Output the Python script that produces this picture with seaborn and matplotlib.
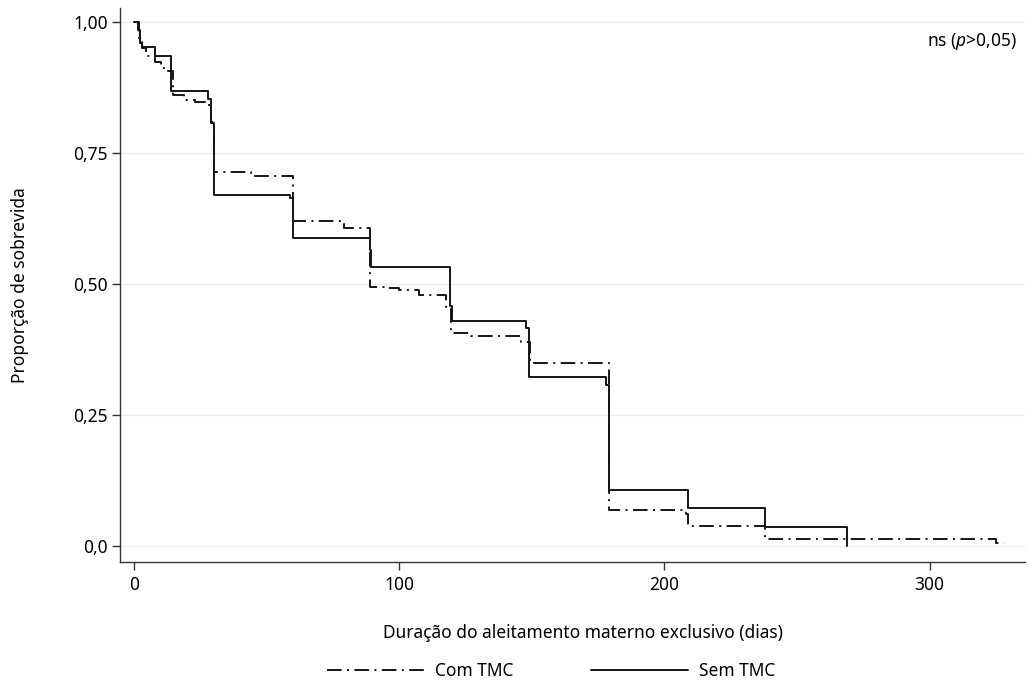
import numpy as np
import pandas as pd
import matplotlib
matplotlib.use("Agg")
import matplotlib.pyplot as plt
import seaborn as sns

# ---- data ----
sem_t = [0, 1.5, 2.1, 3.1, 8, 14, 28, 29, 30, 59, 60, 89, 89.5, 119, 120, 148, 149, 178, 179, 209, 238, 269]
sem_s = [1.0, 0.985, 0.96, 0.952, 0.936, 0.869, 0.853, 0.807, 0.670, 0.665, 0.588, 0.565, 0.533, 0.458, 0.430,
         0.416, 0.323, 0.307, 0.106, 0.072, 0.036, 0.0]

com_t = [0, 2, 3, 4.5, 8, 10, 12.5, 14.5, 19, 23, 27, 29, 30, 44, 60, 79, 89, 95, 100, 107.5, 117.5, 119.5,
         127, 146, 149.5, 179, 208, 209, 238, 325, 328]
com_s = [1.0, 0.97, 0.95, 0.935, 0.924, 0.912, 0.906, 0.861, 0.851, 0.848, 0.842, 0.81, 0.713, 0.707, 0.621,
         0.608, 0.495, 0.492, 0.488, 0.479, 0.457, 0.406, 0.400, 0.390, 0.350, 0.069, 0.062, 0.038, 0.013,
         0.005, 0.005]

groups = ["Com TMC", "Sem TMC"]
x_ticks = [0, 100, 200, 300]
x_ticklabels = ["0", "100", "200", "300"]
y_ticks = [1.0, 0.75, 0.5, 0.25, 0.0]
y_ticklabels = ["1,00", "0,75", "0,50", "0,25", "0,0"]

df = pd.DataFrame({
    "t": com_t + sem_t,
    "s": com_s + sem_s,
    "grupo": [groups[0]] * len(com_t) + [groups[1]] * len(sem_t),
})

# ---- style ----
sns.set_theme(style="white")
plt.rcParams["font.family"] = ["Noto Sans", "DejaVu Sans"]
plt.rcParams["text.color"] = "#000000"
plt.rcParams["mathtext.fontset"] = "custom"
plt.rcParams["mathtext.rm"] = "Noto Sans"
plt.rcParams["mathtext.it"] = "Noto Sans:italic"

W, H = 1029, 681
fig = plt.figure(figsize=(W / 100, H / 100), dpi=100)
L, R, T, B = 120, 1025, 8, 562
ax = fig.add_axes([L / W, 1 - B / H, (R - L) / W, (B - T) / H])

lc = "#151515"
lw = 1.4
sns.lineplot(data=df, x="t", y="s", hue="grupo", style="grupo", hue_order=groups, style_order=groups,
             palette={groups[0]: lc, groups[1]: lc},
             dashes={groups[0]: (7.5, 2.8, 1.0, 2.8), groups[1]: ""},
             estimator=None, sort=False, drawstyle="steps-post", linewidth=lw, legend=False, ax=ax)

ax.set_xlim(-5.3, 336)
ax.set_ylim(-0.0305, 1.027)
ax.set_xticks(x_ticks)
ax.set_xticklabels(x_ticklabels)
ax.set_yticks(y_ticks)
ax.set_yticklabels(y_ticklabels)
ax.yaxis.grid(True, color="#ececec", linewidth=1.0)
ax.xaxis.grid(False)
ax.set_axisbelow(True)

for side in ["top", "right"]:
    ax.spines[side].set_visible(False)
for side in ["left", "bottom"]:
    ax.spines[side].set_color("#333333")
    ax.spines[side].set_linewidth(1.0)

fs = 12.5
ax.tick_params(axis="both", which="major", direction="out", length=6, width=1.0, color="#333333",
               labelsize=fs, labelcolor="#000000", left=True, bottom=True)
ax.tick_params(axis="y", pad=2.5)
ax.tick_params(axis="x", pad=4)

ax.set_xlabel("Duração do aleitamento materno exclusivo (dias)", fontsize=fs, color="#000000")
ax.set_ylabel("Proporção de sobrevida", fontsize=fs, color="#000000")
ax.xaxis.label.set_va("center")
ax.xaxis.set_label_coords((583 - L) / (R - L), (B - 633) / (B - T))
ax.yaxis.label.set_va("center")
ax.yaxis.set_label_coords((20 - L) / (R - L), 0.5)

ax.text((1017 - L) / (R - L), (B - 42) / (B - T), r"ns ($\mathit{p}$>0,05)", transform=ax.transAxes,
        ha="right", va="center", fontsize=fs, color="#000000")

handles = ax.get_lines()[:2]
leg = fig.legend(handles, groups, loc="center", bbox_to_anchor=(551 / W, (H - 671) / H), ncol=2,
                 frameon=False, fontsize=fs, handlelength=5.6, handletextpad=0.6, columnspacing=4.5)
for txt in leg.get_texts():
    txt.set_color("#000000")

fig.savefig("out.png", dpi=100)
